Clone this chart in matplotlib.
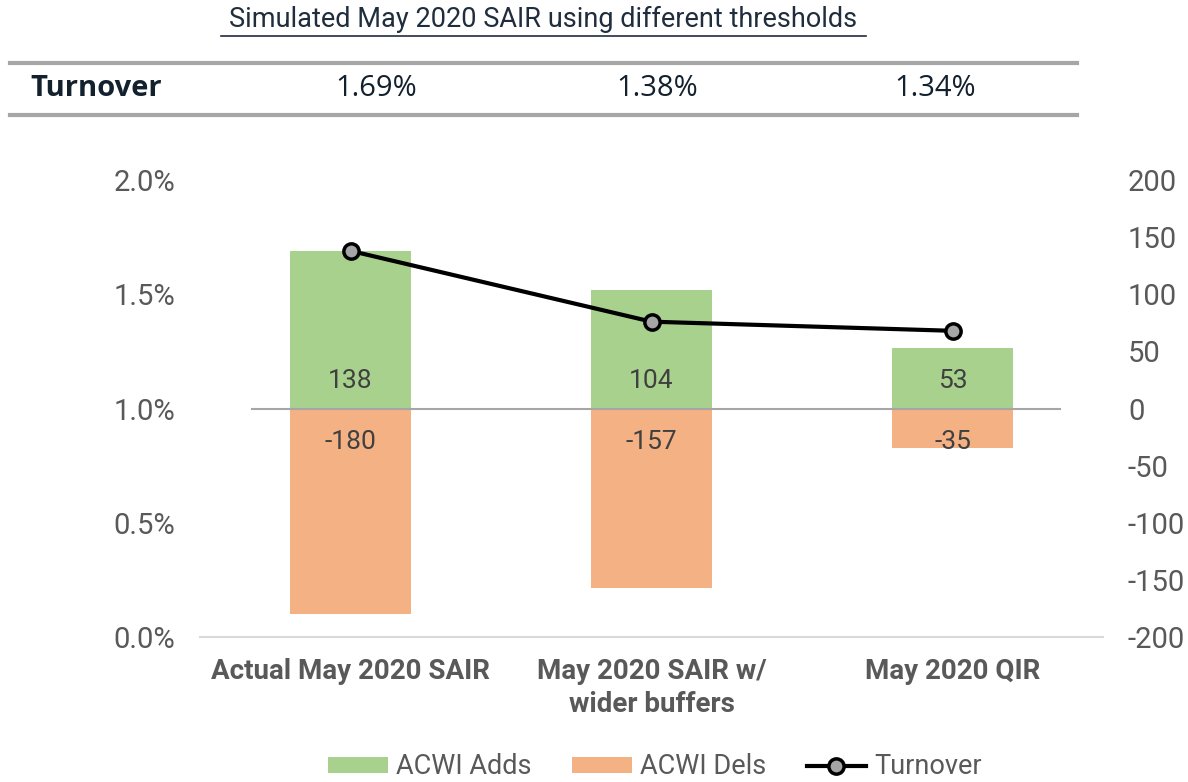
import matplotlib
matplotlib.use("Agg")
import matplotlib.pyplot as plt
from matplotlib.patches import Patch
from matplotlib.lines import Line2D
from matplotlib.ticker import FuncFormatter

plt.rcParams['font.family'] = ['Roboto', 'DejaVu Sans']
plt.rcParams['axes.unicode_minus'] = False

categories = ["Actual May 2020 SAIR", "May 2020 SAIR w/\nwider buffers", "May 2020 QIR"]
adds = [138, 104, 53]
dels = [-180, -157, -35]
turnover = [1.69, 1.38, 1.34]
turnover_labels = ["1.69%", "1.38%", "1.34%"]
left_ticks = [0.0, 0.5, 1.0, 1.5, 2.0]
right_ticks = [-200, -150, -100, -50, 0, 50, 100, 150, 200]

GREEN = "#a9d18e"
ORANGE = "#f4b183"
TICK = "#595959"
LABEL = "#404040"

fig = plt.figure(figsize=(11.88, 7.82), dpi=100)
ax = fig.add_axes([200/1188, (782-637)/782, 903/1188, 457/782])
ax2 = ax.twinx()

x = list(range(len(categories)))
ax2.bar(x, adds, width=0.4, color=GREEN, zorder=2)
ax2.bar(x, dels, width=0.4, color=ORANGE, zorder=2)
ax2.set_ylim(-200, 200)
ax2.set_yticks(right_ticks)
ax2.yaxis.set_major_formatter(FuncFormatter(lambda v, p: f"{int(round(v))}"))
ax2.hlines(0, -0.33, 2.36, color="#a6a6a6", linewidth=1.5, zorder=3)

for xi, a, d in zip(x, adds, dels):
    ax2.annotate(str(a), (xi, 0), xytext=(0, 19.5), textcoords="offset points",
                 ha="center", va="center", fontsize=19, color=LABEL, zorder=4)
    ax2.annotate(str(d), (xi, 0), xytext=(0, -24), textcoords="offset points",
                 ha="center", va="center", fontsize=19, color=LABEL, zorder=4)

ax.set_zorder(ax2.get_zorder() + 1)
ax.patch.set_visible(False)
ax.plot(x, turnover, color="black", linewidth=3, marker="o", markersize=11,
        markerfacecolor="#a6a6a6", markeredgecolor="black", markeredgewidth=2.5, zorder=5)
ax.set_ylim(0, 2.0)
ax.set_yticks(left_ticks)
ax.yaxis.set_major_formatter(FuncFormatter(lambda v, p: f"{v:.1f}%"))
ax.set_xlim(-0.5, 2.5)
ax.set_xticks(x)
ax.set_xticklabels(categories, fontsize=20, fontweight="bold", color=TICK, linespacing=1.3)

for a in (ax, ax2):
    for s in ("top", "left", "right", "bottom"):
        a.spines[s].set_visible(False)
    a.tick_params(length=0)
ax.spines["bottom"].set_visible(True)
ax.spines["bottom"].set_color("#d9d9d9")
ax.spines["bottom"].set_linewidth(1.5)
ax.tick_params(axis="y", labelsize=21, labelcolor=TICK, pad=18)
ax.tick_params(axis="x", pad=15)
ax2.tick_params(axis="y", labelsize=21, labelcolor=TICK, pad=18)
for lbl in ax2.get_yticklabels():
    lbl.set_horizontalalignment("left")

# Title
fig.text(543/1188, 1 - 19/782, "Simulated May 2020 SAIR using different thresholds",
         ha="center", va="center", fontsize=19.5, color="#1f2d3d")
fig.add_artist(Line2D([221/1188, 866/1188], [1 - 36/782, 1 - 36/782], color="#1f2d3d", linewidth=1.2))

# Turnover table
for yy in (63, 115):
    fig.add_artist(Line2D([10/1188, 1077/1188], [1 - yy/782, 1 - yy/782], color="#a6a6a6", linewidth=3))
fig.text(30/1188, 1 - 88/782, "Turnover", ha="left", va="center", fontsize=21,
         fontweight="bold", color="#13202e", family=["Open Sans", "DejaVu Sans"])
for xp, lab in zip([376, 657, 935], turnover_labels):
    fig.text(xp/1188, 1 - 88/782, lab, ha="center", va="center", fontsize=21,
             color="#13202e", family=["Open Sans", "DejaVu Sans"])

handles = [Patch(facecolor=GREEN, edgecolor="none", label="ACWI Adds"),
           Patch(facecolor=ORANGE, edgecolor="none", label="ACWI Dels"),
           Line2D([], [], color="black", linewidth=3, marker="o", markersize=11,
                  markerfacecolor="#a6a6a6", markeredgecolor="black", markeredgewidth=2.5,
                  label="Turnover")]
leg = fig.legend(handles=handles, loc="center", bbox_to_anchor=(655/1188, 1 - 767/782),
                 ncol=3, frameon=False, fontsize=19.5, handlelength=2.2, handleheight=0.55,
                 columnspacing=1.5, handletextpad=0.3)
for txt in leg.get_texts():
    txt.set_color(TICK)

fig.savefig("out.png", dpi=100)
